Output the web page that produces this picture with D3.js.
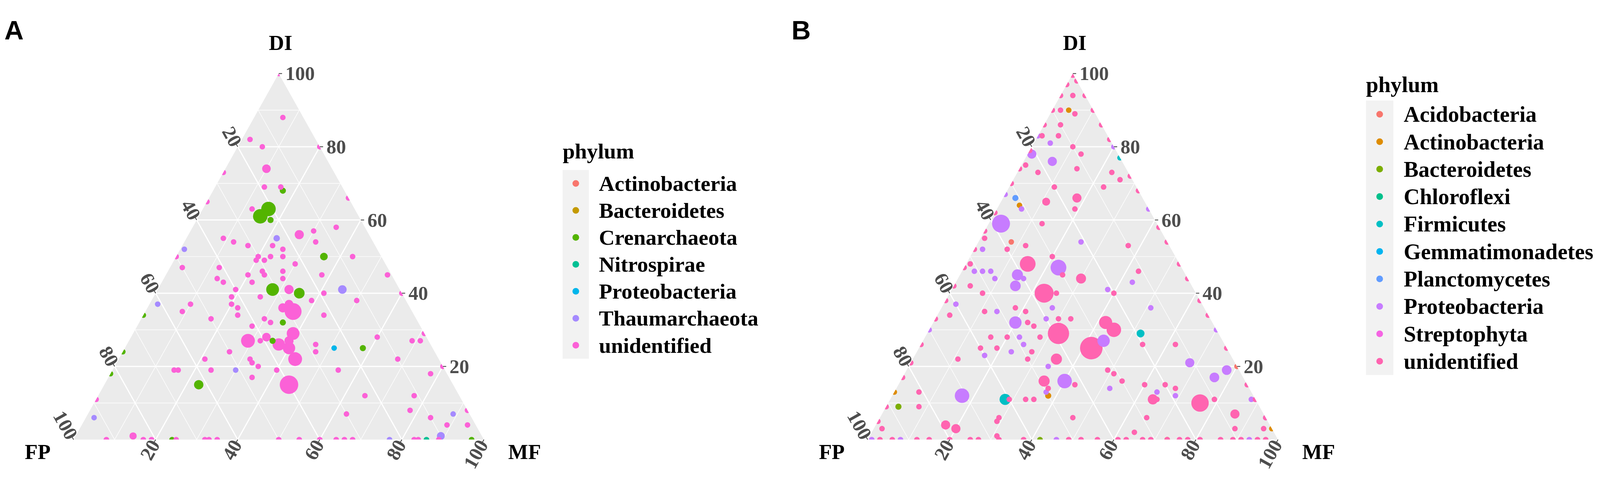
<!DOCTYPE html>
<html>
<head>
<meta charset="utf-8">
<script src="https://cdn.jsdelivr.net/npm/d3@7"></script>
<style>
  html, body { margin: 0; padding: 0; background: #fff; overflow: hidden; }
  svg { display: block; width: 100vw; height: 100vh; }
</style>
</head>
<body>
<svg id="chart" viewBox="0 0 4328 1240" preserveAspectRatio="xMidYMid meet"></svg>
<script>
// ---- categories / colours ----
const phylaA = ["Actinobacteria", "Bacteroidetes", "Crenarchaeota", "Nitrospirae", "Proteobacteria", "Thaumarchaeota", "unidentified"]
const coloursA = ["#F8766D", "#C49A00", "#53B400", "#00C094", "#00B6EB", "#A58AFF", "#FB61D7"]
const phylaB = ["Acidobacteria", "Actinobacteria", "Bacteroidetes", "Chloroflexi", "Firmicutes", "Gemmatimonadetes", "Planctomycetes", "Proteobacteria", "Streptophyta", "unidentified"]
const coloursB = ["#F8766D", "#DE8C00", "#7CAE00", "#00C08B", "#00BFC4", "#00B4F0", "#619CFF", "#C77CFF", "#F564E3", "#FF64B0"]

const tickValues = [20, 40, 60, 80, 100]
const gridValues = [10, 20, 30, 40, 50, 60, 70, 80, 90]

// ---- panel A points: [DI, FP, MF, abundance] ----
const A_Actinobacteria = []
const A_Bacteroidetes = []
const A_Crenarchaeota = [
    [68, 15, 17, 1.3], [63, 21, 16, 10], [61, 24, 15, 10], [60, 22, 18, 1.3], [50, 14, 36, 2.3],
    [41, 31, 28, 7.5], [40, 25, 35, 5], [32, 33, 35, 1.3], [27, 38, 35, 1.3], [25, 17, 58, 1.3],
    [15, 62, 23, 3.7], [0, 76, 24, 1], [0, 3, 97, 1], [34, 66, 0, 1], [24, 76, 0, 1], [18, 82, 0, 1]
]
const A_Nitrospirae = [[0, 14, 86, 1]]
const A_Proteobacteria = [[25, 24, 51, 1]]
const A_Thaumarchaeota = [
    [55, 23, 22, 1.5], [52, 47, 1, 1], [41, 14, 45, 3], [37, 61, 2, 1], [19, 51, 30, 1],
    [7, 4, 89, 1], [6, 92, 2, 1], [1, 10, 89, 2.5], [0, 23, 77, 1]
]
const A_unidentified = [
    [88, 5, 7, 1], [82, 16, 2, 1], [80, 14, 6, 1], [74, 16, 10, 3], [69, 19, 12, 1], [69, 15, 16, 1],
    [63, 25, 12, 1], [56, 17, 27, 3.5], [55, 36, 9, 1], [54, 34, 12, 1], [57, 13, 30, 1], [58, 7, 35, 1],
    [54, 14, 32, 1], [53, 31, 16, 1], [53, 25, 22, 1], [50, 27, 23, 1], [52, 23, 25, 1], [50, 24, 26, 1],
    [50, 7, 43, 1], [50, 30, 20, 1], [49, 31, 20, 1], [49, 29, 22, 1], [47, 50, 3, 1], [47, 41, 12, 1],
    [48, 22, 30, 1], [46, 31, 23, 1], [45, 31, 24, 1], [46, 26, 28, 1], [45, 17, 38, 1], [45, 1, 54, 1],
    [44, 43, 13, 1], [43, 42, 15, 1], [45, 35, 20, 1], [44, 27, 29, 1], [43, 35, 22, 1], [41, 27, 32, 3.5],
    [41, 40, 19, 1], [40, 19, 41, 1], [39, 42, 19, 1], [39, 35, 26, 1], [37, 53, 10, 1], [37, 43, 20, 1],
    [36, 42, 22, 1], [38, 23, 39, 1], [38, 12, 50, 1], [35, 29, 36, 14], [36, 31, 33, 3.5], [37, 29, 34, 3],
    [35, 56, 9, 1], [33, 50, 17, 1], [34, 43, 23, 1], [34, 22, 44, 1], [33, 37, 30, 1], [32, 36, 32, 1],
    [31, 41, 28, 1], [29, 32, 39, 7.5], [27, 34, 39, 3.5], [27, 44, 29, 9], [28, 39, 33, 3], [27, 41, 32, 1],
    [28, 12, 60, 1], [27, 4, 69, 1], [27, 2, 71, 1], [26, 37, 37, 7], [25, 35, 40, 7], [26, 28, 46, 1],
    [24, 29, 47, 1], [24, 50, 26, 1], [22, 35, 43, 9], [22, 57, 21, 1], [22, 46, 32, 1], [21, 46, 33, 1],
    [22, 10, 68, 1], [19, 66, 15, 1], [19, 65, 16, 1], [19, 57, 24, 1], [20, 45, 35, 1], [19, 41, 40, 1],
    [19, 26, 55, 1], [18, 4, 78, 1], [17, 48, 35, 1], [15, 40, 45, 17], [12, 23, 65, 1], [12, 11, 77, 1],
    [7, 30, 63, 1], [8, 14, 78, 1], [6, 10, 84, 1], [4, 7, 89, 1], [4, 2, 94, 1], [1, 85, 14, 2],
    // on the FP-MF edge
    [0, 92, 8, 1], [0, 83, 17, 1], [0, 81, 19, 1], [0, 75, 25, 1], [0, 68, 32, 1], [0, 67, 33, 1],
    [0, 65, 35, 1], [0, 50, 50, 1], [0, 45, 55, 1], [0, 40, 60, 1], [0, 36, 64, 1], [0, 34, 66, 1],
    [0, 32, 68, 1], [0, 17, 83, 1], [0, 16, 84, 1], [0, 11, 89, 1],
    // on the DI-FP edge
    [100, 0, 0, 1], [73, 27, 0, 1], [65, 35, 0, 1], [50, 50, 0, 1], [11, 89, 0, 1],
    // on the DI-MF edge
    [80, 0, 20, 1], [66, 0, 34, 1], [40, 0, 60, 1], [29, 0, 71, 1], [20, 0, 80, 1], [8, 0, 92, 1]
]

// ---- panel B points: [DI, FP, MF, abundance] ----
const B_Acidobacteria = [[54, 38, 8, 1], [20, 0, 80, 1]]
const B_Actinobacteria = [[90, 6, 4, 1], [64, 31, 5, 1], [12, 50, 38, 1.3], [13, 87, 0, 1], [3, 0, 97, 1], [0, 27, 73, 1]]
const B_Bacteroidetes = [[9, 88, 3, 1.3], [0, 58, 42, 1]]
const B_Chloroflexi = []
const B_Firmicutes = [[29, 19, 52, 2.5], [11, 61, 28, 5.5], [77, 0, 23, 1]]
const B_Gemmatimonadetes = []
const B_Planctomycetes = [[66, 31, 3, 1.3]]
const B_Proteobacteria = [
    [81, 15, 4, 1], [78, 21, 1, 3.5], [76, 17, 7, 3.5], [63, 31, 6, 1], [59, 38, 3, 16], [52, 46, 2, 1],
    [54, 21, 25, 1], [47, 30, 23, 12], [46, 51, 3, 1], [46, 49, 5, 1], [46, 47, 7, 1], [44, 47, 9, 1],
    [45, 41, 14, 5.5], [44, 40, 16, 1], [43, 14, 43, 1], [42, 43, 15, 5], [41, 21, 38, 1], [37, 60, 3, 1],
    [36, 37, 27, 1], [36, 13, 51, 1], [35, 51, 14, 1], [33, 40, 27, 1], [32, 48, 20, 7], [27, 29, 44, 7],
    [28, 49, 23, 1], [26, 49, 25, 1], [24, 53, 23, 1], [23, 60, 17, 1], [21, 11, 68, 3.5], [19, 3, 78, 4],
    [17, 7, 76, 4], [20, 46, 34, 1], [16, 44, 40, 10], [13, 50, 37, 1], [13, 23, 64, 1], [12, 19, 69, 1],
    [14, 34, 52, 1], [12, 71, 17, 10], [11, 1, 88, 1],
    [83, 17, 0, 1], [67, 33, 0, 1], [30, 70, 0, 1], [80, 0, 20, 1], [63, 0, 37, 1], [30, 0, 70, 1],
    [6, 0, 94, 1], [0, 99, 1, 1], [0, 92, 8, 1], [0, 54, 46, 1], [0, 7, 93, 1]
]
const B_Streptophyta = []
const B_unidentified = [
    [94, 3, 3, 1], [90, 8, 2, 1], [89, 5, 6, 1], [86, 10, 4, 1], [83, 12, 5, 1], [83, 16, 1, 1],
    [80, 10, 10, 1], [78, 9, 13, 1], [75, 24, 1, 1], [73, 22, 5, 1], [74, 12, 14, 1], [73, 4, 23, 1],
    [71, 3, 26, 1], [69, 8, 23, 1], [69, 20, 11, 1], [66, 16, 18, 3.5], [65, 24, 11, 2.5], [63, 18, 19, 1],
    [59, 28, 13, 1], [55, 44, 1, 1], [52, 40, 8, 1], [53, 35, 12, 1], [53, 10, 37, 1], [50, 30, 20, 1],
    [48, 51, 1, 1], [48, 37, 15, 12], [45, 30, 25, 1], [46, 11, 43, 1], [44, 26, 30, 4.3], [42, 54, 4, 1],
    [40, 37, 23, 18], [40, 34, 26, 1], [40, 52, 8, 1], [40, 20, 40, 1], [36, 46, 18, 1], [34, 63, 3, 1],
    [35, 54, 11, 1], [35, 44, 21, 1], [33, 37, 30, 1], [33, 34, 33, 1], [32, 45, 23, 1], [31, 44, 25, 1],
    [32, 26, 42, 8], [30, 25, 45, 10], [29, 26, 45, 1], [29, 39, 32, 23], [28, 52, 20, 1], [28, 56, 16, 1],
    [28, 44, 28, 1], [25, 60, 15, 1], [25, 56, 19, 1], [25, 33, 42, 26], [26, 20, 54, 1], [26, 12, 62, 1],
    [24, 48, 28, 1], [22, 67, 11, 1], [22, 50, 28, 1], [22, 43, 35, 5.5], [19, 32, 49, 1], [18, 31, 51, 1],
    [16, 30, 54, 1], [16, 49, 35, 5.5], [14, 49, 37, 1], [15, 42, 43, 1], [15, 25, 60, 1], [15, 20, 65, 1],
    [14, 18, 68, 1], [13, 81, 6, 1], [11, 54, 35, 1], [11, 56, 33, 1], [11, 60, 29, 1], [11, 25, 64, 4.5],
    [11, 24, 65, 1], [10, 14, 76, 15], [11, 10, 79, 1], [9, 83, 8, 1], [6, 65, 29, 1], [5, 66, 29, 1],
    [6, 47, 47, 1], [6, 29, 65, 1], [7, 7, 86, 3.5], [3, 95, 2, 1], [4, 79, 17, 3.5], [3, 77, 20, 3.5],
    [3, 9, 88, 1], [3, 2, 95, 1], [2, 34, 64, 1], [1, 68, 31, 1],
    // FP-MF edge
    [0, 97, 3, 1], [0, 94, 6, 1], [0, 88, 12, 1], [0, 85, 15, 1], [0, 80, 20, 1], [0, 75, 25, 1],
    [0, 73, 27, 1], [0, 68, 32, 1], [0, 62, 38, 1], [0, 51, 49, 1], [0, 48, 52, 1], [0, 44, 56, 1],
    [0, 39, 61, 1], [0, 37, 63, 1], [0, 33, 67, 1], [0, 31, 69, 1], [0, 27, 73, 1], [0, 24, 76, 1],
    [0, 22, 78, 1], [0, 19, 81, 1], [0, 14, 86, 1], [0, 11, 89, 1], [0, 9, 91, 1], [0, 5, 95, 1], [0, 3, 97, 1],
    // DI-FP edge
    [100, 0, 0, 3], [97, 3, 0, 1], [94, 6, 0, 1], [90, 10, 0, 1], [86, 14, 0, 1], [79, 21, 0, 1],
    [74, 26, 0, 1], [70, 30, 0, 1], [62, 38, 0, 1], [57, 43, 0, 1], [52, 48, 0, 1], [47, 53, 0, 1],
    [42, 58, 0, 1], [38, 62, 0, 1], [33, 67, 0, 1], [26, 74, 0, 1], [21, 79, 0, 1], [17, 83, 0, 1],
    [9, 91, 0, 1], [5, 95, 0, 1],
    // DI-MF edge
    [98, 0, 2, 1], [94, 0, 6, 1], [90, 0, 10, 1], [86, 0, 14, 1], [82, 0, 18, 1], [72, 0, 28, 1],
    [68, 0, 32, 1], [58, 0, 42, 1], [54, 0, 46, 1], [48, 0, 52, 1], [44, 0, 56, 1], [38, 0, 62, 1],
    [34, 0, 66, 1], [25, 0, 75, 1], [15, 0, 85, 1], [11, 0, 89, 1], [6, 0, 94, 1]
]

const seriesA = [A_Actinobacteria, A_Bacteroidetes, A_Crenarchaeota, A_Nitrospirae, A_Proteobacteria, A_Thaumarchaeota, A_unidentified]
const seriesB = [B_Acidobacteria, B_Actinobacteria, B_Bacteroidetes, B_Chloroflexi, B_Firmicutes, B_Gemmatimonadetes,
    B_Planctomycetes, B_Proteobacteria, B_Streptophyta, B_unidentified]

const serif = "'Liberation Serif', 'Times New Roman', serif"
const sans = "'Liberation Sans', Arial, sans-serif"

const svg = d3.select('#chart')

// point size scale shared by both panels
const radius = d3.scaleSqrt().domain([1, 17]).range([7.5, 25])

const panels = [
    {
        name: 'A', left: 199, right: 1309, top: 164, base: 1155, letterX: 12,
        phyla: phylaA, colours: coloursA, series: seriesA,
        legend: { x: 1522, titleY: 394, keyY: 425, row: 73, key: 71, textX: 1620, size: 59 }
    },
    {
        name: 'B', left: 2347, right: 3457, top: 164, base: 1155, letterX: 2141,
        phyla: phylaB, colours: coloursB, series: seriesB,
        legend: { x: 3695, titleY: 214, keyY: 237, row: 74.3, key: 74, textX: 3797, size: 60 }
    }
]

panels.forEach(drawPanel)

function drawPanel(p) {
    const g = svg.append('g').attr('class', 'panel-' + p.name)
    const W = p.right - p.left
    const H = p.base - p.top

    // ternary projection through two linear scales
    const x = d3.scaleLinear().domain([0, 100]).range([p.left, p.right])
    const y = d3.scaleLinear().domain([0, 100]).range([p.base, p.top])
    const proj = (di, fp, mf) => {
        const s = di + fp + mf
        return [x((mf + di / 2) / s * 100), y(di / s * 100)]
    }
    const color = d3.scaleOrdinal().domain(p.phyla).range(p.colours)

    const corners = [proj(100, 0, 0), proj(0, 100, 0), proj(0, 0, 100)]
    const clipId = 'clip-' + p.name
    g.append('clipPath').attr('id', clipId)
        .append('polygon').attr('points', corners.map(c => c.join(',')).join(' '))

    g.append('polygon')
        .attr('points', corners.map(c => c.join(',')).join(' '))
        .attr('fill', '#EBEBEB')

    // grid lines
    const grid = []
    gridValues.forEach(v => {
        const major = v % 20 === 0
        grid.push({ a: proj(v, 100 - v, 0), b: proj(v, 0, 100 - v), major })
        grid.push({ a: proj(100 - v, v, 0), b: proj(0, v, 100 - v), major })
        grid.push({ a: proj(0, 100 - v, v), b: proj(100 - v, 0, v), major })
    })
    g.append('g').selectAll('line').data(grid).join('line')
        .attr('x1', d => d.a[0]).attr('y1', d => d.a[1])
        .attr('x2', d => d.b[0]).attr('y2', d => d.b[1])
        .attr('stroke', '#FFFFFF')
        .attr('stroke-width', d => d.major ? 3.2 : 1.5)

    // ticks and tick labels
    const unit = (dx, dy) => { const n = Math.hypot(dx, dy); return [dx / n, dy / n] }
    const axes = [
        { pt: v => proj(v, 0, 100 - v), dir: [1, 0], kind: 'DI' },
        { pt: v => proj(100 - v, v, 0), dir: unit(-W / 2, -H), kind: 'FP' },
        { pt: v => proj(0, 100 - v, v), dir: unit(-W / 2, H), kind: 'MF' }
    ]
    const tickG = g.append('g')
    axes.forEach(ax => {
        const items = tickValues.map(v => ({ v, p: ax.pt(v) }))
        tickG.selectAll('.tick-' + ax.kind).data(items).join('line')
            .attr('class', 'tick-' + ax.kind)
            .attr('x1', d => d.p[0]).attr('y1', d => d.p[1])
            .attr('x2', d => d.p[0] + ax.dir[0] * 9).attr('y2', d => d.p[1] + ax.dir[1] * 9)
            .attr('stroke', '#333333').attr('stroke-width', 2)

        const lab = tickG.selectAll('.lab-' + ax.kind).data(items).join('text')
            .attr('class', 'lab-' + ax.kind)
            .style('font-family', serif)
            .style('font-weight', 'bold')
            .style('font-size', '53px')
            .attr('fill', '#4D4D4D')
            .attr('dominant-baseline', 'central')
            .text(d => d.v)
        if (ax.kind === 'DI') {
            lab.attr('x', d => d.p[0] + 18).attr('y', d => d.p[1]).attr('text-anchor', 'start')
        } else {
            const ang = Math.atan2(-ax.dir[1], -ax.dir[0]) * 180 / Math.PI
            lab.attr('text-anchor', 'end')
                .attr('transform', d => {
                    const tx = d.p[0] + ax.dir[0] * 5
                    const ty = d.p[1] + ax.dir[1] * 5
                    return `translate(${tx},${ty}) rotate(${ang})`
                })
        }
    })

    // axis titles
    const titles = [
        { t: 'DI', x: corners[0][0] + 5, y: 100 },
        { t: 'FP', x: corners[1][0] - 97, y: 1208 },
        { t: 'MF', x: corners[2][0] + 110, y: 1208 }
    ]
    g.selectAll('.axis-title').data(titles).join('text')
        .attr('class', 'axis-title')
        .attr('x', d => d.x).attr('y', d => d.y)
        .attr('text-anchor', 'middle')
        .style('font-family', serif).style('font-weight', 'bold').style('font-size', '57px')
        .attr('fill', '#000')
        .text(d => d.t)

    // points
    const pts = []
    p.series.forEach((rows, i) => rows.forEach(r => pts.push({ di: r[0], fp: r[1], mf: r[2], size: r[3], phylum: p.phyla[i] })))
    pts.sort((a, b) => b.size - a.size)
    g.append('g').attr('clip-path', `url(#${clipId})`)
        .selectAll('circle').data(pts).join('circle')
        .attr('cx', d => proj(d.di, d.fp, d.mf)[0])
        .attr('cy', d => proj(d.di, d.fp, d.mf)[1])
        .attr('r', d => radius(d.size))
        .attr('fill', d => color(d.phylum))

    // panel letter
    g.append('text')
        .attr('x', p.letterX).attr('y', 72)
        .style('font-family', sans).style('font-weight', 'bold').style('font-size', '72px')
        .attr('fill', '#000')
        .text(p.name)

    // legend
    const L = p.legend
    const legend = g.append('g').attr('class', 'legend')
    legend.append('text')
        .attr('x', L.x).attr('y', L.titleY)
        .style('font-family', serif).style('font-weight', 'bold').style('font-size', L.size + 'px')
        .text('phylum')
    legend.append('rect')
        .attr('x', L.x).attr('y', L.keyY)
        .attr('width', L.key).attr('height', L.row * p.phyla.length)
        .attr('fill', '#F2F2F2')
    legend.selectAll('.key-dot').data(p.phyla).join('circle')
        .attr('class', 'key-dot')
        .attr('cx', L.x + L.key / 2)
        .attr('cy', (d, i) => L.keyY + L.row * (i + 0.5))
        .attr('r', 9)
        .attr('fill', d => color(d))
    legend.selectAll('.key-text').data(p.phyla).join('text')
        .attr('class', 'key-text')
        .attr('x', L.textX)
        .attr('y', (d, i) => L.keyY + L.row * (i + 0.5))
        .attr('dominant-baseline', 'central')
        .style('font-family', serif).style('font-weight', 'bold').style('font-size', L.size + 'px')
        .text(d => d)
}
</script>
</body>
</html>
